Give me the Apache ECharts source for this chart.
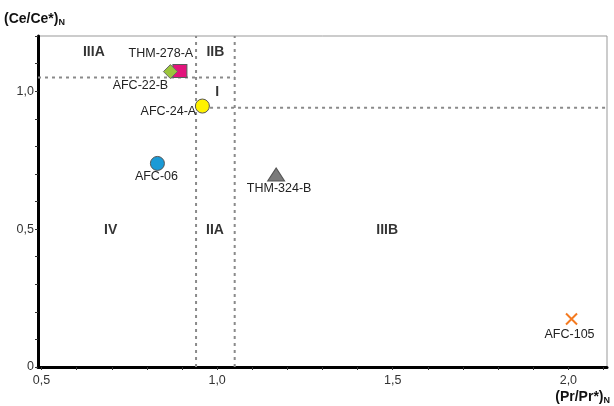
<!DOCTYPE html>
<html>
<head>
<meta charset="utf-8">
<script src="https://cdn.jsdelivr.net/npm/echarts@6/dist/echarts.min.js"></script>
<style>html,body{margin:0;padding:0;background:#fff;}#c{width:614px;height:406px;}</style>
</head>
<body>
<div id="c"></div>
<script>
// ---- data ----
const sampleNames = ['AFC-22-B', 'THM-278-A', 'AFC-24-A', 'AFC-06', 'THM-324-B', 'AFC-105'];
const prValues   = [0.867, 0.894, 0.958, 0.830, 1.168, 2.009];   // (Pr/Pr*)N
const ceValues   = [1.071, 1.073, 0.946, 0.738, 0.698, 0.174];   // (Ce/Ce*)N

const zoneNames = ['IIIA', 'IIB', 'I', 'IV', 'IIA', 'IIIB'];
const zoneX     = [0.649, 0.995, 1.0, 0.697, 0.994, 1.484];
const zoneY     = [1.142, 1.142, 0.996, 0.497, 0.497, 0.497];

// field boundaries
const prLow = 0.94, prHigh = 1.05;
const ceLow = 0.94, ceHigh = 1.05;

const xMin = 0.49, xMax = 2.11, yMin = 0, yMax = 1.2;
const xLabelValues = [0.5, 1.0, 1.5, 2.0];
const xTickValues = [0.5,0.6,0.7,0.8,0.9,1.0,1.1,1.2,1.3,1.4,1.5,1.6,1.7,1.8,1.9,2.0,2.1];
const yLabelValues = [0, 0.5, 1.0];
const yTickValues = [0,0.1,0.2,0.3,0.4,0.5,0.6,0.7,0.8,0.9,1.0,1.1,1.2];

// ---- styles ----
const pointStyles = {
  'AFC-22-B':  {symbol: 'diamond', size: [14, 14], color: '#9bc43c', border: '#6a6a6a', off: [-30, 14], z: 7},
  'THM-278-A': {symbol: 'rect', size: [14, 13], color: '#e2147c', border: '#5a5a5a', off: [-19, -17], z: 6},
  'AFC-24-A':  {symbol: 'circle', size: 14, color: '#fff200', border: '#555', off: [-34, 5], z: 5},
  'AFC-06':    {symbol: 'circle', size: 14, color: '#1a9ad6', border: '#555', off: [-1, 13], z: 5},
  'THM-324-B': {symbol: 'triangle', size: [17, 13], color: '#7b7b7b', border: '#555', off: [3, 14], z: 5},
  'AFC-105':   {symbol: 'path://M0,0 L10,10 M10,0 L0,10', size: [11, 11], color: 'none', border: '#f47a20', bw: 2, off: [-2, 16], z: 5}
};

const fmt = v => (Math.abs(v) < 1e-9 ? '0' : v.toFixed(1).replace('.', ','));
const FONT = '"Liberation Sans", Arial, sans-serif';

const dashStyle = {color: '#8a8a8a', width: 2, type: [3, 4]};
function dashLine(pts) {
  return {type: 'line', data: pts, symbol: 'none', silent: true, z: 1,
          lineStyle: dashStyle, animation: false};
}

const series = [
  dashLine([[prLow, yMin], [prLow, yMax]]),
  dashLine([[prHigh, yMin], [prHigh, yMax]]),
  dashLine([[xMin, ceHigh], [prHigh, ceHigh]]),
  dashLine([[prLow, ceLow], [xMax, ceLow]]),
  {
    type: 'scatter', symbolSize: 0, z: 2, silent: true, animation: false,
    data: zoneNames.map((n, i) => ({name: n, value: [zoneX[i], zoneY[i]]})),
    label: {show: true, position: 'inside', formatter: p => p.name,
            fontFamily: FONT, fontSize: 14, fontWeight: 'bold', color: '#000'}
  }
];

sampleNames.forEach((n, i) => {
  const s = pointStyles[n];
  series.push({
    type: 'scatter', name: n, z: s.z, animation: false,
    symbol: s.symbol, symbolSize: s.size, symbolKeepAspect: true,
    itemStyle: {color: s.color, borderColor: s.border, borderWidth: s.bw || 1, opacity: 1},
    data: [{name: n, value: [prValues[i], ceValues[i]]}],
    label: {show: true, position: 'inside', offset: s.off, formatter: p => p.name,
            fontFamily: FONT, fontSize: 12.5, color: '#222'}
  });
});

const chart = echarts.init(document.getElementById('c'), null, {renderer: 'canvas'});
chart.setOption({
  backgroundColor: '#fff',
  animation: false,
  grid: {left: 38, right: 7, top: 36, bottom: 39, show: true, borderColor: '#999', borderWidth: 1,
         containLabel: false, outerBoundsMode: 'none'},
  xAxis: {
    type: 'value', min: xMin, max: xMax,
    name: '{a|(Pr/Pr*)}{b|N}', nameLocation: 'end', nameGap: 0,
    nameTextStyle: {align: 'right', verticalAlign: 'top', padding: [23, -3, 0, 0],
      rich: {a: {fontFamily: FONT, fontSize: 14, fontWeight: 'bold', color: '#111'},
             b: {fontFamily: FONT, fontSize: 9, fontWeight: 'bold', color: '#111', padding: [6, 0, 0, 0]}}},
    axisLine: {show: true, onZero: false, lineStyle: {color: '#000', width: 3}},
    axisTick: {show: true, length: 3, customValues: xTickValues, lineStyle: {color: '#333', width: 1}},
    axisLabel: {customValues: xLabelValues, formatter: fmt, fontFamily: FONT, fontSize: 12.5, color: '#333', margin: 7},
    splitLine: {show: false}
  },
  yAxis: {
    type: 'value', min: yMin, max: yMax,
    name: '{a|(Ce/Ce*)}{b|N}', nameLocation: 'end', nameGap: 9,
    nameTextStyle: {align: 'left', padding: [0, 0, 0, -34],
      rich: {a: {fontFamily: FONT, fontSize: 14, fontWeight: 'bold', color: '#111'},
             b: {fontFamily: FONT, fontSize: 9, fontWeight: 'bold', color: '#111', padding: [6, 0, 0, 0]}}},
    axisLine: {show: true, onZero: false, lineStyle: {color: '#000', width: 3}},
    axisTick: {show: true, length: 3, customValues: yTickValues, lineStyle: {color: '#333', width: 1}},
    axisLabel: {customValues: yLabelValues, formatter: fmt, fontFamily: FONT, fontSize: 12.5, color: '#333', margin: 4},
    splitLine: {show: false}
  },
  series: series
});
</script>
</body>
</html>
